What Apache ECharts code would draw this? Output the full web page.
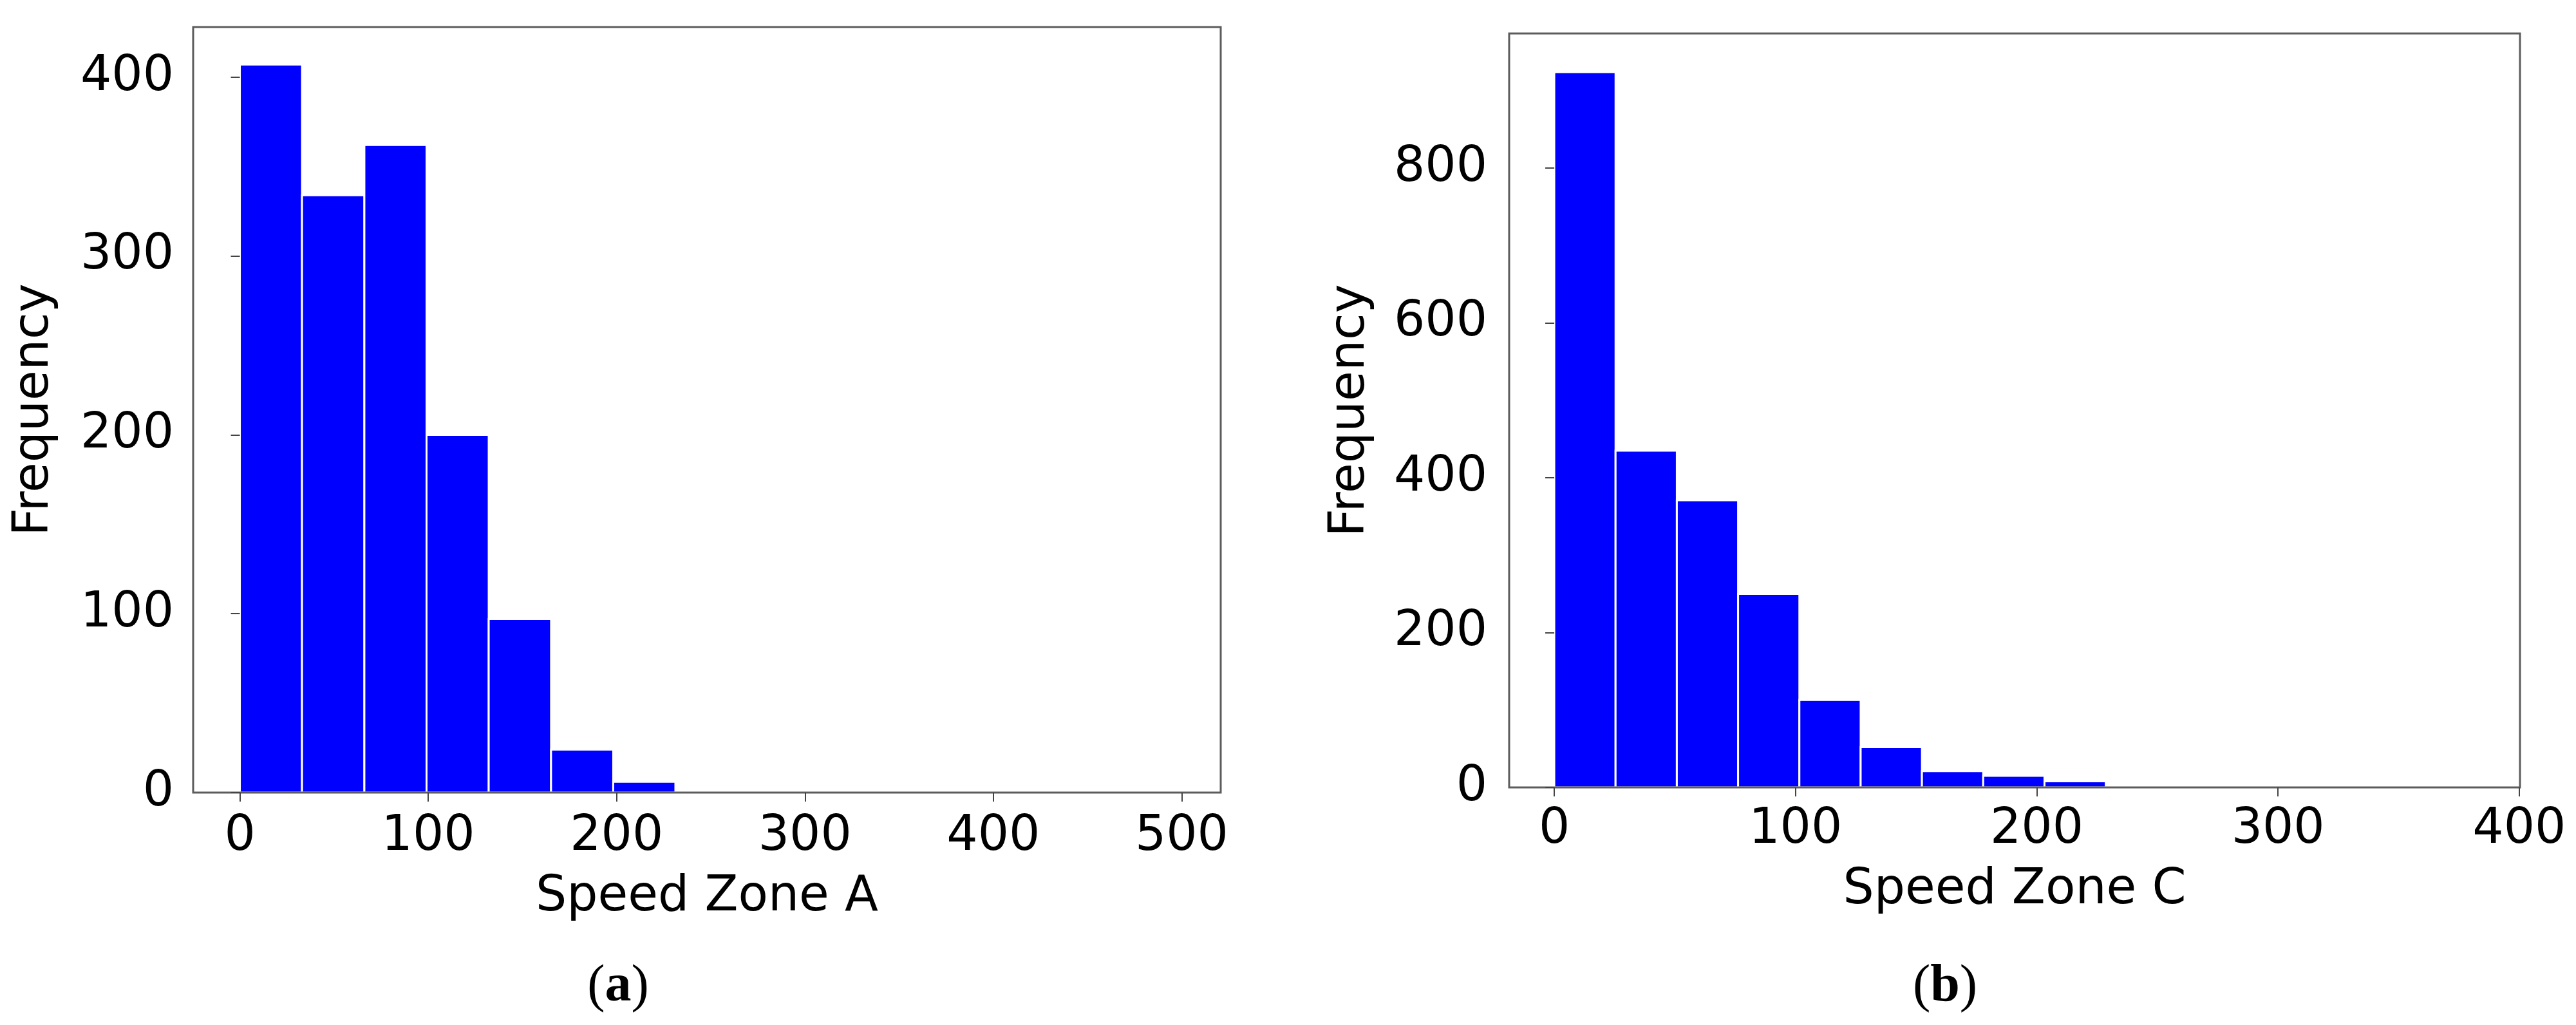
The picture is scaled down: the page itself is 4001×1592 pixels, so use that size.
<!DOCTYPE html>
<html>
<head>
<meta charset="utf-8">
<script src="https://cdn.jsdelivr.net/npm/echarts@6/dist/echarts.min.js"></script>
<style>
  html, body { margin: 0; padding: 0; background: #fff; }
</style>
</head>
<body>
<div id="MyChart" style="width: 4001px;height: 1592px;"></div>
<script>
// bin edges and counts of the two histograms
var edgesA = [0, 33.0, 66.1, 99.1, 132.1, 165.2, 198.2, 231.2, 264.3, 297.3, 330.3, 363.4, 396.4, 429.4, 462.5, 495.5];
var countsA = [407, 334, 362, 200, 97, 24, 6, 0, 0, 0, 0, 0, 0, 0, 0];
var edgesC = [0, 25.4, 50.8, 76.2, 101.6, 127.0, 152.4, 177.8, 203.2, 228.6, 254.0, 279.4, 304.8, 330.2, 355.6, 381.0];
var countsC = [924, 435, 371, 250, 113, 52, 21, 15, 8, 0, 0, 0, 0, 0, 0];

// tick values
var xTicksA = [0, 100, 200, 300, 400, 500];
var yTicksA = [0, 100, 200, 300, 400];
var xTicksC = [0, 100, 200, 300, 400];
var yTicksC = [0, 200, 400, 600, 800];

var xNameA = 'Speed Zone A';
var xNameC = 'Speed Zone C';
var yName = 'Frequency';

var FONT = 'DejaVu Sans';
var FS = 76;

// [left edge, right edge, count] rows for the custom series
function toBins(edges, counts) {
  let rows = [];
  for (let i = 0; i < counts.length; i++) {
    rows.push([edges[i], edges[i + 1], counts[i]]);
  }
  return rows;
}

function renderBin(params, api) {
  let h = api.value(2);
  if (!h) return null;
  let p0 = api.coord([api.value(0), 0]);
  let p1 = api.coord([api.value(1), h]);
  return {
    type: 'rect',
    shape: { x: p0[0], y: p1[1], width: p1[0] - p0[0], height: p0[1] - p1[1] },
    style: { fill: '#0000ff', stroke: '#ffffff', lineWidth: 3 }
  };
}

function xAxisOf(idx, name, min, max, ticks, gap, margin) {
  return {
    type: 'value', gridIndex: idx, min: min, max: max,
    name: name, nameLocation: 'middle', nameGap: gap, nameMoveOverlap: false,
    nameTextStyle: { fontFamily: FONT, fontSize: FS, color: '#000' },
    axisLine: { show: false },
    axisTick: { show: true, customValues: ticks, length: 14, lineStyle: { color: '#444', width: 2 } },
    axisLabel: { customValues: ticks, margin: margin, fontFamily: FONT, fontSize: FS, color: '#000' },
    splitLine: { show: false },
    z: 5
  };
}

function yAxisOf(idx, min, max, ticks, margin) {
  return {
    type: 'value', gridIndex: idx, min: min, max: max,
    name: yName, nameLocation: 'middle', nameGap: 208, nameMoveOverlap: false,
    nameTextStyle: { fontFamily: FONT, fontSize: FS, color: '#000' },
    axisLine: { show: false },
    axisTick: { show: true, customValues: ticks, length: 14, lineStyle: { color: '#444', width: 2 } },
    axisLabel: { customValues: ticks, margin: margin, fontFamily: FONT, fontSize: FS, color: '#000' },
    splitLine: { show: false },
    z: 5
  };
}

function caption(letter, cx) {
  return {
    type: 'text', x: cx, y: 1533, z: 10,
    style: {
      text: '{p|(}{b|' + letter + '}{p|)}',
      align: 'center', verticalAlign: 'middle',
      textAlign: 'center', textVerticalAlign: 'middle',
      rich: {
        p: { fontFamily: 'Liberation Serif', fontSize: 82, fill: '#000', color: '#000' },
        b: { fontFamily: 'Liberation Serif', fontSize: 82, fontWeight: 'bold', fill: '#000', color: '#000' }
      }
    }
  };
}

let myChart = echarts.init(document.getElementById('MyChart'), null, { renderer: 'canvas' });
let option = {
  animation: false,
  backgroundColor: '#ffffff',
  grid: [
    { left: 300, top: 42, width: 1596, height: 1189, show: true, borderColor: '#5c5c5c', borderWidth: 3,
      backgroundColor: 'transparent', outerBoundsMode: 'none', containLabel: false, z: 4 },
    { left: 2344, top: 52, width: 1570, height: 1171, show: true, borderColor: '#5c5c5c', borderWidth: 3,
      backgroundColor: 'transparent', outerBoundsMode: 'none', containLabel: false, z: 4 }
  ],
  xAxis: [
    xAxisOf(0, xNameA, -24.8, 520.7, xTicksA, 125, 31),
    xAxisOf(1, xNameC, -18.7, 400.3, xTicksC, 122, 28)
  ],
  yAxis: [
    yAxisOf(0, 0, 428, yTicksA, 30),
    yAxisOf(1, 0, 974, yTicksC, 34)
  ],
  graphic: [caption('a', 960), caption('b', 3021)],
  series: [
    { type: 'custom', name: 'Zone A', xAxisIndex: 0, yAxisIndex: 0, renderItem: renderBin,
      encode: { x: [0, 1], y: 2 }, data: toBins(edgesA, countsA), clip: true, z: 2 },
    { type: 'custom', name: 'Zone C', xAxisIndex: 1, yAxisIndex: 1, renderItem: renderBin,
      encode: { x: [0, 1], y: 2 }, data: toBins(edgesC, countsC), clip: true, z: 2 }
  ]
};
myChart.setOption(option);
</script>
</body>
</html>
